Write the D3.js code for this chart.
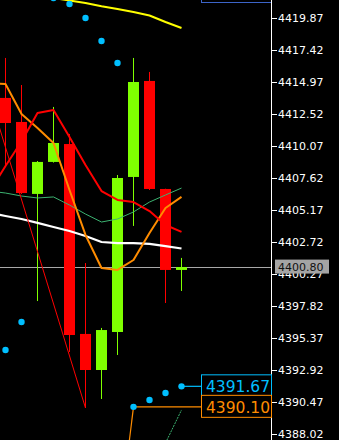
<!DOCTYPE html>
<html><head><meta charset="utf-8">
<script src="https://cdn.jsdelivr.net/npm/d3@7"></script>
<style>html,body{margin:0;padding:0;background:#000;overflow:hidden}</style>
</head><body>
<svg id="c" width="339" height="440"></svg>
<script>
// ---- data ----
const candleIdx = [0,1,2,3,4,5,6,7,8,9,10,11];
const opens  = [4413.75,4411.91,4406.40,4408.85,4410.22,4395.68,4392.92,4395.83,4407.70,4415.05,4406.78,4400.58];
const highs  = [4416.81,4414.74,4408.92,4413.06,4410.99,4401.11,4396.14,4407.85,4416.81,4415.74,4406.80,4401.50];
const lows   = [4408.62,4406.40,4398.20,4408.80,4394.30,4390.01,4390.70,4394.07,4403.95,4406.70,4398.05,4398.97];
const closes = [4411.83,4406.47,4408.85,4410.30,4395.60,4392.92,4395.98,4407.62,4414.97,4406.78,4400.58,4400.80];

const maIdx    = [-1,0,1,2,3,4,5,6,7,8,9,10,11];
const maRed    = [4406.55,4408.54,4410.42,4412.60,4412.83,4410.76,4408.62,4406.62,4405.94,4405.78,4405.09,4404.02,4403.49];
const maOrange = [4414.89,4414.82,4412.52,4411.45,4410.30,4406.70,4403.26,4400.73,4400.58,4401.34,4403.41,4405.32,4406.17];
const maGreen  = [4406.62,4406.47,4406.24,4406.09,4406.17,4405.55,4404.86,4404.25,4404.48,4405.02,4405.78,4406.32,4406.85];
const maWhite  = [4404.94,4404.71,4404.48,4404.18,4403.87,4403.56,4403.18,4402.72,4402.64,4402.64,4402.57,4402.41,4402.22];

const yellowIdx = [3,4,5,6,7,8,9,10,11];
const yellowVal = [4421.40,4421.21,4421.02,4420.77,4420.56,4420.33,4420.06,4419.56,4419.10];

const sarIdx = [0,1,3,4,5,6,7,8,9,10,11];
const sarVal = [4394.45,4396.60,4421.40,4420.94,4419.87,4418.11,4416.43,4390.10,4390.62,4391.16,4391.67];

const zigIdx = [-2,5];
const zigVal = [4417.95,4390.01];

const orangeLvlIdx = [7.72,8];
const orangeLvlVal = [4387.30,4390.10];

const greenDotIdx = [10,11];
const greenDotVal = [4387.33,4389.86];

const tickVals = [4419.87,4417.42,4414.97,4412.52,4410.07,4407.62,4405.17,4402.72,4400.27,4397.82,4395.37,4392.92,4390.47,4388.02];
const lastPrice = 4400.80;
const sarLabel = 4391.67;
const levelLabel = 4390.10;

// ---- chart ----
const W = 339, H = 440, axisX = 272;
const svg = d3.select("#c");
svg.append("rect").attr("width",W).attr("height",H).attr("fill","#000");

const x = d3.scaleLinear().domain([0,11]).range([5.5,181.5]);
const y = d3.scaleLinear().domain([4388.02,4419.87]).range([434,18]);

// current price line
svg.append("line").attr("x1",0).attr("x2",axisX).attr("y1",Math.round(y(lastPrice))+0.5).attr("y2",Math.round(y(lastPrice))+0.5)
  .attr("stroke","#a8a8a8").attr("stroke-width",1);

// candles
const cg = svg.append("g");
candleIdx.forEach((i,k)=>{
  const up = closes[k] >= opens[k];
  const col = up ? "#7fff00" : "#ff0000";
  cg.append("line").attr("x1",x(i)).attr("x2",x(i)).attr("y1",y(highs[k])).attr("y2",y(lows[k]))
    .attr("stroke",col).attr("stroke-width",1);
  const top = y(Math.max(opens[k],closes[k])), bot = y(Math.min(opens[k],closes[k]));
  cg.append("rect").attr("x",x(i)-5.5).attr("width",11).attr("y",top).attr("height",Math.max(2,bot-top)).attr("fill",col);
});

function drawLine(xs, ys, col, w, dash){
  const pts = xs.map((v,k)=>[x(v), y(ys[k])]);
  const p = svg.append("path").attr("d", d3.line()(pts)).attr("fill","none").attr("stroke",col).attr("stroke-width",w)
    .attr("stroke-linejoin","round");
  if(dash) p.attr("stroke-dasharray",dash);
}
drawLine(maIdx, maGreen, "#3cb371", 1);
drawLine(maIdx, maWhite, "#ffffff", 2.2);
drawLine(maIdx, maOrange, "#ff8c00", 2);
drawLine(maIdx, maRed, "#ff0000", 2);
drawLine(yellowIdx, yellowVal, "#ffff00", 2);
drawLine(zigIdx, zigVal, "#ff0000", 1);
drawLine(orangeLvlIdx, orangeLvlVal, "#ff8c00", 1.2);
drawLine(greenDotIdx, greenDotVal, "#3cb371", 1, "2,1");

// label boxes geometry
const boxL = axisX - 70.5, boxR = axisX - 0.5;

// connector lines
svg.append("line").attr("x1",x(11)).attr("x2",boxL).attr("y1",y(sarLabel)).attr("y2",y(sarLabel)).attr("stroke","#00bfff").attr("stroke-width",1.2);
svg.append("line").attr("x1",x(8)).attr("x2",boxL).attr("y1",y(levelLabel)).attr("y2",y(levelLabel)).attr("stroke","#ff8c00").attr("stroke-width",1.2);

// SAR dots
svg.selectAll("circle.sar").data(sarIdx).enter().append("circle")
  .attr("cx",(d)=>x(d)).attr("cy",(d,k)=>y(sarVal[k])).attr("r",3.2).attr("fill","#00bfff");

// top partial box
svg.append("rect").attr("x",boxL).attr("y",-12).attr("width",boxR-boxL).attr("height",14.5)
  .attr("fill","none").attr("stroke","#3c64c8").attr("stroke-width",1);

// axis
svg.append("line").attr("x1",axisX-0.5).attr("x2",axisX-0.5).attr("y1",0).attr("y2",H).attr("stroke","#fff").attr("stroke-width",1);
const ax = svg.append("g").attr("transform",`translate(${axisX},0)`)
  .call(d3.axisRight(y).tickValues(tickVals).tickFormat(d=>d.toFixed(2)).tickSize(5).tickSizeOuter(0).tickPadding(1));
ax.select(".domain").remove();
ax.selectAll("line").attr("stroke","#fff");
ax.selectAll("text").attr("fill","#fff").attr("font-family","DejaVu Sans").attr("font-size","11px");

// current price label
const yl = y(lastPrice);
svg.append("rect").attr("x",275).attr("y",yl-7.5).attr("width",54).attr("height",14).attr("fill","#a4a4a4");
svg.append("text").attr("x",278).attr("y",yl).attr("dy","0.36em").attr("fill","#111").attr("font-family","DejaVu Sans").attr("font-size","11px")
  .text(lastPrice.toFixed(2));

// SAR label and level label boxes
function labelBox(val, col){
  const yc = y(val);
  svg.append("rect").attr("x",boxL).attr("y",yc-11.5).attr("width",boxR-boxL).attr("height",22)
    .attr("fill","#000").attr("stroke",col).attr("stroke-width",1);
  svg.append("text").attr("x",boxL+4.5).attr("y",yc).attr("dy","0.37em").attr("fill",col)
    .attr("font-family","DejaVu Sans").attr("font-size","15.5px").text(val.toFixed(2));
}
labelBox(sarLabel, "#00bfff");
labelBox(levelLabel, "#ff8c00");
</script>
</body></html>
